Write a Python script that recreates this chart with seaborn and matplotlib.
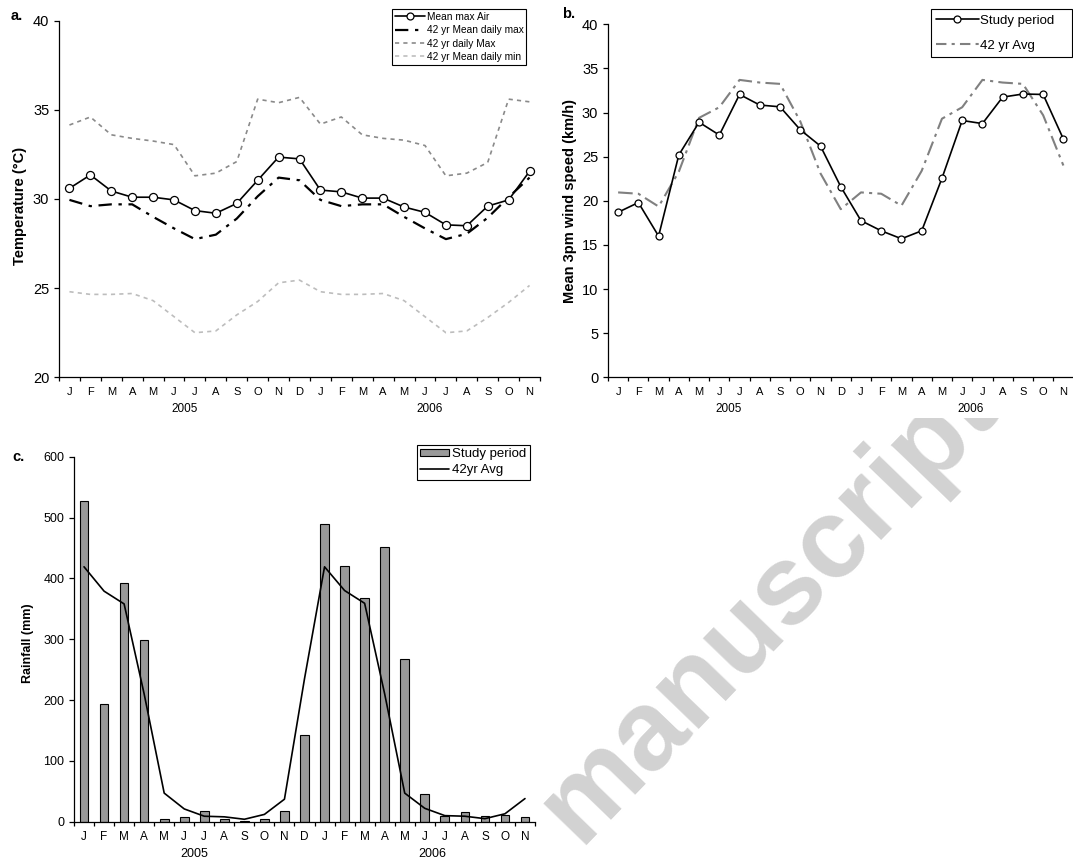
import matplotlib
matplotlib.use('Agg')
import matplotlib.pyplot as plt
import matplotlib.transforms as mtransforms
from matplotlib.lines import Line2D
from matplotlib.patches import Patch
import seaborn as sns
import numpy as np
import pandas as pd

# ---------------- data ----------------
months = ['J', 'F', 'M', 'A', 'M', 'J', 'J', 'A', 'S', 'O', 'N', 'D',
          'J', 'F', 'M', 'A', 'M', 'J', 'J', 'A', 'S', 'O', 'N']
year_labels = ['2005', '2006']

temp_mean_max_air = [30.6, 31.35, 30.45, 30.1, 30.1, 29.95, 29.35, 29.2, 29.75, 31.05, 32.35, 32.25,
                     30.5, 30.4, 30.05, 30.05, 29.55, 29.25, 28.55, 28.5, 29.6, 29.95, 31.55]
temp_42_mean_max = [29.95, 29.6, 29.7, 29.7, 29.0, 28.35, 27.75, 28.0, 28.9, 30.15, 31.2, 31.05,
                    29.95, 29.6, 29.7, 29.7, 29.0, 28.35, 27.75, 28.05, 28.95, 30.1, 31.2]
temp_42_daily_max = [34.15, 34.6, 33.6, 33.4, 33.25, 33.05, 31.3, 31.45, 32.1, 35.6, 35.4, 35.7,
                     34.2, 34.6, 33.6, 33.4, 33.3, 33.0, 31.3, 31.45, 32.05, 35.6, 35.45]
temp_42_mean_min = [24.8, 24.65, 24.65, 24.7, 24.3, 23.4, 22.5, 22.6, 23.5, 24.25, 25.3, 25.45,
                    24.8, 24.65, 24.65, 24.7, 24.3, 23.4, 22.5, 22.6, 23.35, 24.2, 25.15]

wind_study = [18.7, 19.8, 16.0, 25.2, 28.9, 27.45, 32.05, 30.85, 30.65, 28.05, 26.2, 21.6,
              17.75, 16.6, 15.7, 16.6, 22.55, 29.1, 28.75, 31.75, 32.1, 32.05, 27.0]
wind_42_avg = [20.95, 20.8, 19.35, 23.3, 29.4, 30.6, 33.7, 33.4, 33.25, 29.0, 23.1, 19.05,
               20.95, 20.8, 19.45, 23.4, 29.3, 30.6, 33.7, 33.4, 33.25, 29.7, 24.0]

rain_study = [527, 194, 393, 299, 4, 7, 18, 4, 1, 4, 18, 142,
              489, 420, 367, 452, 267, 45, 10, 16, 10, 11, 8]
rain_42_avg = [419, 379, 358, 210, 47, 21, 9, 8, 4, 12, 37, 235,
               419, 380, 359, 210, 47, 22, 10, 9, 5, 13, 38]

df = pd.DataFrame({
    'idx': np.arange(len(months)),
    'month': months,
    't_air': temp_mean_max_air,
    't_42max': temp_42_mean_max,
    't_42dmax': temp_42_daily_max,
    't_42min': temp_42_mean_min,
    'w_study': wind_study,
    'w_42': wind_42_avg,
    'r_study': rain_study,
    'r_42': rain_42_avg,
})

# ---------------- style ----------------
sns.set_style('ticks', rc={'axes.edgecolor': 'black', 'xtick.color': 'black',
                           'ytick.color': 'black', 'text.color': 'black',
                           'axes.labelcolor': 'black'})
plt.rcParams['font.family'] = ['Liberation Sans', 'DejaVu Sans']
plt.rcParams['axes.linewidth'] = 0.9

W, H = 1073, 865
fig = plt.figure(figsize=(W / 100, H / 100), dpi=100)


def add_ax(l, r, t, b, **kw):
    return fig.add_axes([l / W, (H - b) / H, (r - l) / W, (b - t) / H], **kw)


def fig_box(l, r, t, b):
    return (l / W, (H - b) / H, (r - l) / W, (b - t) / H)


# watermark (visible only in the empty lower-right quadrant)
axw = add_ax(540, 1073, 418, 865, zorder=-1)
axw.axis('off')
axw.text((579 - 540) / 533, (865 - 845) / 447, 'manuscript', transform=axw.transAxes,
         rotation=46, rotation_mode='anchor', ha='left', va='baseline',
         fontsize=81, fontweight='bold', color='#d2d2d2', clip_on=True)


def format_axis(ax, ylo, yhi, ystep, ytick_size, month_size, year_size, year_pos, ax_h_px):
    ax.set_xlim(-0.5, len(months) - 0.5)
    ax.set_ylim(ylo, yhi)
    ax.set_yticks(np.arange(ylo, yhi + 0.001, ystep))
    ax.set_xticks(np.arange(-0.5, len(months), 1.0))
    ax.set_xticklabels([])
    ax.set_xticks(np.arange(len(months)), minor=True)
    ax.set_xticklabels(months, minor=True, fontsize=month_size)
    ax.tick_params(axis='x', which='major', direction='out', length=3, width=0.9)
    ax.tick_params(axis='x', which='minor', length=0, pad=7)
    ax.tick_params(axis='y', direction='out', length=3.5, width=0.9, labelsize=ytick_size, pad=3.5)
    sns.despine(ax=ax)
    ax.set_xlabel('')
    trans = mtransforms.blended_transform_factory(ax.transData, ax.transAxes)
    for lab, pos in zip(year_labels, year_pos):
        ax.text(pos, -32 / ax_h_px, lab, transform=trans, ha='center', va='center',
                fontsize=year_size)


# ---------------- panel a ----------------
axa = add_ax(59, 540, 20.7, 377.3)
sns.lineplot(data=df, x='idx', y='t_42min', ax=axa, color='#bdbdbd', lw=1.2,
             linestyle=(0, (2.5, 2.5)))
sns.lineplot(data=df, x='idx', y='t_42dmax', ax=axa, color='#8a8a8a', lw=1.2,
             linestyle=(0, (2.5, 2.5)))
sns.lineplot(data=df, x='idx', y='t_42max', ax=axa, color='black', lw=1.6,
             linestyle=(0, (6, 3, 1.5, 3)))
sns.lineplot(data=df, x='idx', y='t_air', ax=axa, color='black', lw=1.2, marker='o',
             markersize=5.8, markerfacecolor='white', markeredgecolor='black',
             markeredgewidth=0.9)
format_axis(axa, 20, 40, 5, 10.5, 8, 8.5, [5.5, 17.2], 356.6)
axa.set_ylabel('Temperature (°C)', fontsize=10.5, fontweight='bold')
axa.yaxis.set_label_coords(-0.066, 0.48)

ha = [Line2D([], [], color='black', lw=1.2, marker='o', ms=5, mfc='white', mec='black', mew=0.9),
      Line2D([], [], color='black', lw=1.6, linestyle=(0, (6, 3, 1.5, 3))),
      Line2D([], [], color='#8a8a8a', lw=1.2, linestyle=(0, (2.5, 2.5))),
      Line2D([], [], color='#bdbdbd', lw=1.2, linestyle=(0, (2.5, 2.5)))]
la = ['Mean max Air', '42 yr Mean daily max', '42 yr daily Max', '42 yr Mean daily min']
leg = axa.legend(ha, la, loc='upper left', bbox_to_anchor=fig_box(392, 526, 9, 66),
                 bbox_transform=fig.transFigure, mode='expand', fontsize=7.3, frameon=True,
                 fancybox=False, edgecolor='black', framealpha=1, borderaxespad=0,
                 borderpad=0.3, labelspacing=0.32, handlelength=3.0, handletextpad=0.2)
leg.get_frame().set_linewidth(0.8)

# ---------------- panel b ----------------
axb = add_ax(608, 1073.5, 24.3, 377.3)
sns.lineplot(data=df, x='idx', y='w_42', ax=axb, color='#808080', lw=1.5,
             linestyle=(0, (7, 2.5, 1.5, 2.5)))
sns.lineplot(data=df, x='idx', y='w_study', ax=axb, color='black', lw=1.2, marker='o',
             markersize=5, markerfacecolor='white', markeredgecolor='black',
             markeredgewidth=0.9)
format_axis(axb, 0, 40, 5, 10.5, 8, 8.5, [5.45, 17.4], 353)
axb.set_ylabel('Mean 3pm wind speed (km/h)', fontsize=10.5, fontweight='bold')
axb.yaxis.set_label_coords(-0.067, 0.5)

hb = [Line2D([], [], color='black', lw=1.2, marker='o', ms=5, mfc='white', mec='black', mew=0.9),
      Line2D([], [], color='#808080', lw=1.5, linestyle=(0, (5, 2.5, 1.5, 2.5)))]
lb = ['Study period', '42 yr Avg']
leg = axb.legend(hb, lb, loc='upper left', bbox_to_anchor=fig_box(931, 1072, 9, 58),
                 bbox_transform=fig.transFigure, mode='expand', fontsize=9.5, frameon=True,
                 fancybox=False, edgecolor='black', framealpha=1, borderaxespad=0,
                 borderpad=0.4, labelspacing=1.0, handlelength=3.2, handletextpad=0.1)
leg.get_frame().set_linewidth(0.8)

# ---------------- panel c ----------------
axc = add_ax(74, 535, 456.7, 821.7)
sns.barplot(data=df, x='idx', y='r_study', ax=axc, native_scale=True, color='#999999',
            saturation=1, width=0.43, edgecolor='black', linewidth=0.8)
sns.lineplot(data=df, x='idx', y='r_42', ax=axc, color='black', lw=1.2, zorder=3)
format_axis(axc, 0, 600, 100, 9, 8.5, 9, [5.5, 17.4], 365)
axc.set_ylabel('Rainfall (mm)', fontsize=9, fontweight='bold')
axc.yaxis.set_label_coords(-0.087, 0.49)

hc = [Patch(facecolor='#999999', edgecolor='black', linewidth=0.8),
      Line2D([], [], color='black', lw=1.2)]
lc = ['Study period', '42yr Avg']
leg = axc.legend(hc, lc, loc='upper left', bbox_to_anchor=fig_box(417, 530, 445, 483),
                 bbox_transform=fig.transFigure, mode='expand', fontsize=9.5, frameon=True,
                 fancybox=False, edgecolor='black', framealpha=1, borderaxespad=0,
                 borderpad=0.25, labelspacing=0.3, handlelength=2.2, handleheight=0.5,
                 handletextpad=0.2)
leg.get_frame().set_linewidth(0.8)

# panel letters
fig.text(11 / W, 1 - 16 / H, 'a.', fontsize=10.5, fontweight='bold', va='center', ha='left')
fig.text(562 / W, 1 - 14 / H, 'b.', fontsize=10.5, fontweight='bold', va='center', ha='left')
fig.text(12 / W, 1 - 457 / H, 'c.', fontsize=10.5, fontweight='bold', va='center', ha='left')

fig.savefig('out.png', dpi=100, facecolor='white')
